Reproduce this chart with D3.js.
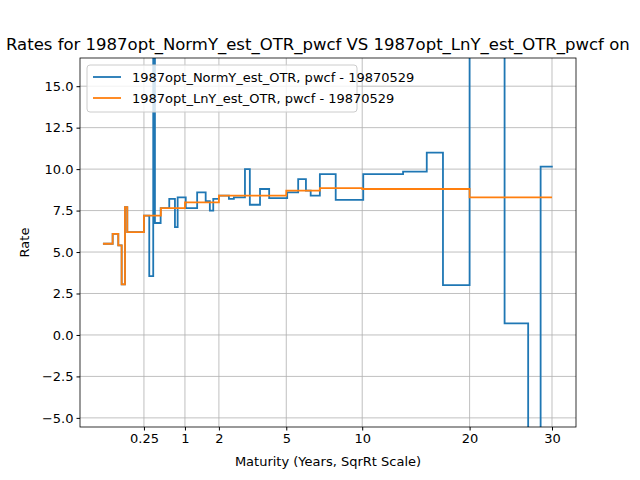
<!DOCTYPE html>
<html><head><meta charset="UTF-8">
<script src="https://d3js.org/d3.v7.min.js"></script>
<style>body{margin:0;background:#fff}text{font-family:"DejaVu Sans",sans-serif}</style>
</head><body>
<svg id="c" width="640" height="480"></svg>
<script>
const xTicks = [0.25, 1, 2, 5, 10, 20, 30];
const yTicks = [-5, -2.5, 0, 2.5, 5, 7.5, 10, 12.5, 15];
const orangeMat = [0, 0.014, 0.035, 0.052, 0.072, 0.088, 0.25, 0.5, 1, 2, 5, 7, 10, 20, 30];
const orangeRate = [5.5, 6.1, 5.4, 3.05, 7.7, 6.2, 7.2, 7.65, 8.0, 8.4, 8.7, 8.85, 8.8, 8.3, 8.3];
const blueMat = [0, 0.014, 0.035, 0.052, 0.072, 0.088, 0.25, 0.319, 0.376, 0.402, 0.495, 0.654, 0.771, 0.83, 1.02, 1.32, 1.57, 1.70, 1.81, 2.0, 2.36, 2.55, 3.0, 3.21, 3.67, 4.11, 5.05, 5.67, 6.13, 6.42, 7.0, 8.06, 10.08, 13.4, 15.6, 17.2, 20, 24, 26.9, 28.5, 30.1];
const blueRate = [5.5, 6.1, 5.4, 3.05, 7.7, 6.2, 7.2, 3.55, 25, 6.75, 7.65, 8.2, 6.5, 8.3, 7.65, 8.6, 8.07, 7.5, 8.2, 8.4, 8.2, 8.3, 10.0, 7.85, 8.8, 8.25, 8.6, 9.4, 8.7, 8.4, 9.7, 8.15, 9.7, 9.85, 11.0, 3.0, 25, 0.7, -12, 10.15, 10.15];

const L = 80, R = 576, T = 58, B = 427;
const svg = d3.select("#c");
const sx = d3.scaleLinear().domain([-0.28, 5.77]).range([L, R]);
const x = m => sx(Math.sqrt(m));
const y = d3.scaleLinear().domain([-5.55, 16.7]).range([B, T]);

// grid
const g = svg.append("g");
xTicks.forEach(t => g.append("line").attr("x1", x(t)).attr("x2", x(t)).attr("y1", T).attr("y2", B).attr("stroke", "#b0b0b0").attr("stroke-width", 0.8));
yTicks.forEach(t => g.append("line").attr("x1", L).attr("x2", R).attr("y1", y(t)).attr("y2", y(t)).attr("stroke", "#b0b0b0").attr("stroke-width", 0.8));

svg.append("clipPath").attr("id", "clip").append("rect").attr("x", L).attr("y", T).attr("width", R - L).attr("height", B - T);
const line = d3.line().x(d => x(d[0])).y(d => y(d[1])).curve(d3.curveStepAfter);
const plot = svg.append("g").attr("clip-path", "url(#clip)");
plot.append("path").datum(blueMat.map((m, i) => [m, blueRate[i]])).attr("d", line).attr("fill", "none").attr("stroke", "#1f77b4").attr("stroke-width", 1.8);
plot.append("path").datum(orangeMat.map((m, i) => [m, orangeRate[i]])).attr("d", line).attr("fill", "none").attr("stroke", "#ff7f0e").attr("stroke-width", 1.8);

// axes
const xa = svg.append("g").attr("transform", `translate(0,${B})`)
  .call(d3.axisBottom(sx).tickValues(xTicks.map(Math.sqrt)).tickFormat((d, i) => xTicks[i]).tickSizeOuter(0).tickSize(3.5));
const ya = svg.append("g").attr("transform", `translate(${L},0)`)
  .call(d3.axisLeft(y).tickValues(yTicks).tickFormat(d3.format(".1f")).tickSizeOuter(0).tickSize(3.5));
[xa, ya].forEach(a => { a.selectAll("text").attr("font-size", 13).attr("fill", "#000"); a.select(".domain").remove(); a.selectAll("line").attr("stroke", "#000"); });
svg.append("rect").attr("x", L).attr("y", T).attr("width", R - L).attr("height", B - T).attr("fill", "none").attr("stroke", "#000").attr("stroke-width", 0.8);

svg.append("text").attr("x", (L + R) / 2).attr("y", 466).attr("text-anchor", "middle").attr("font-size", 13).text("Maturity (Years, SqrRt Scale)");
svg.append("text").attr("transform", `translate(29,${(T + B) / 2}) rotate(-90)`).attr("text-anchor", "middle").attr("font-size", 13).text("Rate");
svg.append("text").attr("x", 6).attr("y", 50).attr("text-anchor", "start").attr("font-size", 16.5).text("Rates for 1987opt_NormY_est_OTR_pwcf VS 1987opt_LnY_est_OTR_pwcf on");

// legend
const lg = svg.append("g");
lg.append("rect").attr("x", 87).attr("y", 65).attr("width", 270).attr("height", 47).attr("rx", 3).attr("fill", "#fff").attr("fill-opacity", 0.8).attr("stroke", "#ccc");
[["1987opt_NormY_est_OTR, pwcf - 19870529", "#1f77b4"], ["1987opt_LnY_est_OTR, pwcf - 19870529", "#ff7f0e"]].forEach((d, i) => {
  const yy = 77 + i * 21;
  lg.append("line").attr("x1", 93).attr("x2", 121).attr("y1", yy).attr("y2", yy).attr("stroke", d[1]).attr("stroke-width", 1.8);
  lg.append("text").attr("x", 132).attr("y", yy + 5).attr("font-size", 13).text(d[0]);
});
</script>
</body></html>
